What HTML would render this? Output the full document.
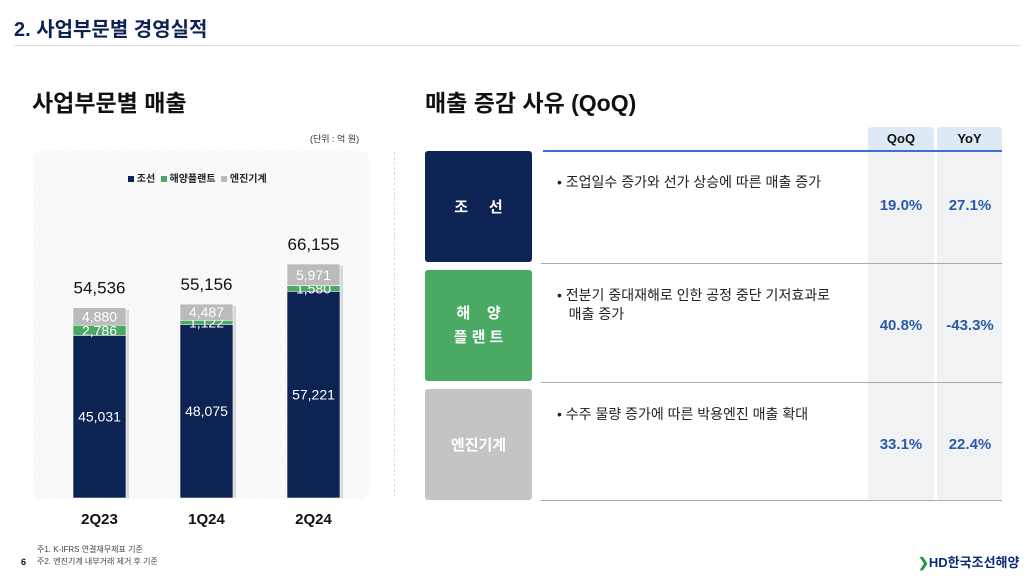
<!DOCTYPE html>
<html lang="ko"><head><meta charset="utf-8">
<style>
body{margin:0;width:1033px;height:588px;background:#fff;font-family:"Liberation Sans","Noto Sans CJK KR",sans-serif;position:relative;overflow:hidden;color:#111}
.a{position:absolute}
.cat{color:#fff;font-weight:bold;font-size:15px;display:flex;align-items:center;justify-content:center;text-align:center;border-radius:3px;letter-spacing:0}
.pct{font-weight:bold;color:#2a5aa8;font-size:15px;text-align:center;width:66px}
.bul{font-size:14px;color:#222;line-height:19px}
</style></head><body>
<div class="a" style="left:14px;top:13px;font-size:20px;font-weight:bold;color:#0d2353">2. 사업부문별 경영실적</div>
<div class="a" style="left:14px;top:45px;width:1006px;height:1px;background:#ddd"></div>
<div class="a" style="left:32px;top:84px;font-size:23px;font-weight:bold;color:#111">사업부문별 매출</div>
<div class="a" style="left:310px;top:132px;font-size:9px;color:#333">(단위 : 억 원)</div>
<div class="a" style="left:33px;top:151px;width:336px;height:348px;background:repeating-linear-gradient(135deg,#f7f7f7 0 2px,#fbfbfb 2px 4px);border-radius:8px"></div>
<div class="a" style="left:128px;top:170px;font-size:10px;font-weight:bold;color:#222;white-space:nowrap">
<span style="display:inline-block;width:6px;height:6px;background:#0d2353"></span> 조선&nbsp;&nbsp;<span style="display:inline-block;width:6px;height:6px;background:#4aaa63"></span> 해양플랜트&nbsp;&nbsp;<span style="display:inline-block;width:6px;height:6px;background:#bbb"></span> 엔진기계</div>
<svg class="a" style="left:0;top:0" width="400" height="540" id="chart"></svg>
<div class="a" style="left:394px;top:152px;height:345px;border-left:1px dashed #ddd"></div>

<div class="a" style="left:425px;top:84px;font-size:23px;font-weight:bold;color:#111">매출 증감 사유 (QoQ)</div>
<div class="a" style="left:868px;top:127px;width:66px;height:373px;background:#f1f2f4;border-radius:4px 4px 0 0"></div>
<div class="a" style="left:937px;top:127px;width:65px;height:373px;background:#f1f2f4;border-radius:4px 4px 0 0"></div>
<div class="a" style="left:868px;top:127px;width:66px;height:23px;background:#dde9f6;border-radius:4px 4px 0 0;font-size:13px;font-weight:bold;text-align:center;line-height:23px">QoQ</div>
<div class="a" style="left:937px;top:127px;width:65px;height:23px;background:#dde9f6;border-radius:4px 4px 0 0;font-size:13px;font-weight:bold;text-align:center;line-height:23px">YoY</div>
<div class="a" style="left:543px;top:150px;width:459px;height:1.5px;background:#3b6fd0"></div>
<div class="a" style="left:541px;top:263px;width:461px;height:1px;background:#aaa"></div>
<div class="a" style="left:541px;top:382px;width:461px;height:1px;background:#aaa"></div>
<div class="a" style="left:541px;top:500px;width:461px;height:1px;background:#aaa"></div>

<div class="a cat" style="left:425px;top:151px;width:107px;height:111px;background:#0d2353">조&nbsp;&nbsp;&nbsp;&nbsp;&nbsp;선</div>
<div class="a cat" style="left:425px;top:270px;width:107px;height:111px;background:#4aaa63;line-height:24px">해&nbsp;&nbsp;&nbsp;&nbsp;양<br>플 랜 트</div>
<div class="a cat" style="left:425px;top:389px;width:107px;height:111px;background:#c4c4c4">엔진기계</div>

<div class="a bul" style="left:557px;top:173px">• 조업일수 증가와 선가 상승에 따른 매출 증가</div>
<div class="a bul" style="left:557px;top:286px">• 전분기 중대재해로 인한 공정 중단 기저효과로<br>&nbsp;&nbsp;&nbsp;매출 증가</div>
<div class="a bul" style="left:557px;top:405px">• 수주 물량 증가에 따른 박용엔진 매출 확대</div>

<div class="a pct" style="left:868px;top:197px">19.0%</div>
<div class="a pct" style="left:937px;top:197px">27.1%</div>
<div class="a pct" style="left:868px;top:317px">40.8%</div>
<div class="a pct" style="left:937px;top:317px">-43.3%</div>
<div class="a pct" style="left:868px;top:436px">33.1%</div>
<div class="a pct" style="left:937px;top:436px">22.4%</div>

<div class="a" style="left:21px;top:557px;font-size:9px;font-weight:bold">6</div>
<div class="a" style="left:37px;top:544px;font-size:8px;color:#444;line-height:12px">주1. K-IFRS 연결재무제표 기준<br>주2. 엔진기계 내부거래 제거 후 기준</div>
<div class="a" style="left:918px;top:552px;font-size:13px;font-weight:bold;color:#0d2a7a;white-space:nowrap"><span style="color:#1a9a3a">❯</span>HD한국조선해양</div>

<script>
const categories=["2Q23","1Q24","2Q24"];
const shipbuilding=[45031,48075,57221];
const offshore=[2786,1122,1580];
const engine=[4880,4487,5971];
const totals=[54536,55156,66155];
const svg=document.getElementById('chart');
const NS="http://www.w3.org/2000/svg";
const base=498, k=239/66155, barW=53;
const xPos=i=>73+i*107;
const yH=v=>v*k;
function mk(t,a){const e=document.createElementNS(NS,t);for(const n in a)e.setAttribute(n,a[n]);svg.appendChild(e);return e;}
categories.forEach((c,i)=>{
  const x=xPos(i);
  const segs=[[shipbuilding[i],'#0d2353','shipbuilding'],[offshore[i],'#4aaa63','offshore'],[engine[i],'#bbbbbb','engine']];
  let y=base;
  const sum=shipbuilding[i]+offshore[i]+engine[i];
  const sh=mk('rect',{x:x+3,y:base-yH(sum)+2,width:barW,height:yH(sum)-2,fill:'#d8d8d8'});
  
  
  segs.forEach(([v,col,nm])=>{
    const h=yH(v); y-=h;
    const r=mk('rect',{x:x,y:y,width:barW,height:h,fill:col,stroke:'#fff','stroke-width':0.6});
    
    
    const t=mk('text',{x:x+barW/2,y:y+h/2+5,'text-anchor':'middle','font-size':14,fill:'#fff','font-family':'Liberation Sans, sans-serif'});
    t.textContent=v.toLocaleString('en-US');
    
    
  });
  const tt=mk('text',{x:x+barW/2,y:y-14,'text-anchor':'middle','font-size':17,fill:'#111','font-family':'Liberation Sans, sans-serif'});
  tt.textContent=totals[i].toLocaleString('en-US');
  
  
  const cl=mk('text',{x:x+barW/2,y:524,'text-anchor':'middle','font-size':15,'font-weight':'bold',fill:'#111','font-family':'Liberation Sans, sans-serif'});
  cl.textContent=c;
  
  
});
</script>
</body></html>
